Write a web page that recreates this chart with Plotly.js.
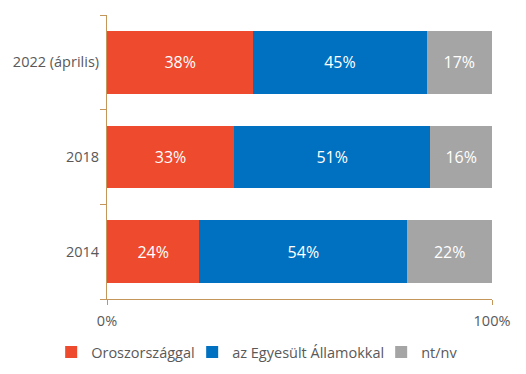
<!DOCTYPE html>
<html>
<head>
<meta charset="utf-8">
<script src="https://cdn.plot.ly/plotly-3.0.1.min.js"></script>
<style>html,body{margin:0;padding:0;background:#fff;}#chart{width:526px;height:374px;}</style>
</head>
<body>
<div id="chart"></div>
<script>
const categories = ['2014', '2018', '2022 (április)'];
const seriesNames = ['Oroszországgal', 'az Egyesült Államokkal', 'nt/nv'];
const russia = [24, 33, 38];
const usa = [54, 51, 45];
const na = [22, 16, 17];
const colors = ['#EE4A2D', '#0070C0', '#A5A5A5'];
const xTickVals = [0, 100];
const xTickText = ['0%', '100%'];

const values = [russia, usa, na];
const legendEntryWidths = [96, 144, 40];
const traces = values.map((v, i) => ({
  type: 'bar',
  orientation: 'h',
  name: seriesNames[i],
  y: categories,
  x: v,
  legendwidth: legendEntryWidths[i],
  marker: {color: colors[i], line: {width: 0}},
  texttemplate: '%{x}%',
  textposition: 'inside',
  insidetextanchor: 'middle',
  textfont: {color: '#ffffff', size: 16, family: 'Open Sans'},
  hoverinfo: 'skip'
}));

const axisColor = '#C4965A';
const layout = {
  width: 526, height: 374,
  margin: {l: 107, r: 34, t: 15, b: 75, autoexpand: false},
  barmode: 'stack',
  bargap: 0.335,
  paper_bgcolor: '#fff', plot_bgcolor: '#fff',
  font: {family: 'Open Sans', color: '#595959', size: 14.5},
  showlegend: true,
  legend: {
    orientation: 'h', xref: 'paper', x: -0.145, xanchor: 'left',
    yref: 'paper', y: -0.187, yanchor: 'middle',
    font: {size: 14.5, color: '#595959'}, traceorder: 'normal',
    itemwidth: 30
  },
  xaxis: {
    range: [0, 100], tickvals: xTickVals, ticktext: xTickText,
    showgrid: false, zeroline: false, showline: true, linecolor: axisColor, linewidth: 1,
    ticks: 'outside', ticklen: 5, tickcolor: axisColor,
    ticklabelstandoff: 4,
    fixedrange: true
  },
  yaxis: {
    type: 'category', categoryorder: 'array', categoryarray: categories,
    showgrid: false, zeroline: false, showline: true, linecolor: axisColor, linewidth: 1,
    ticks: 'outside', tickson: 'boundaries', ticklen: 6, tickcolor: axisColor,
    ticklabelstandoff: 4,
    fixedrange: true
  }
};

Plotly.newPlot('chart', traces, layout, {displayModeBar: false, staticPlot: true});
</script>
</body>
</html>
